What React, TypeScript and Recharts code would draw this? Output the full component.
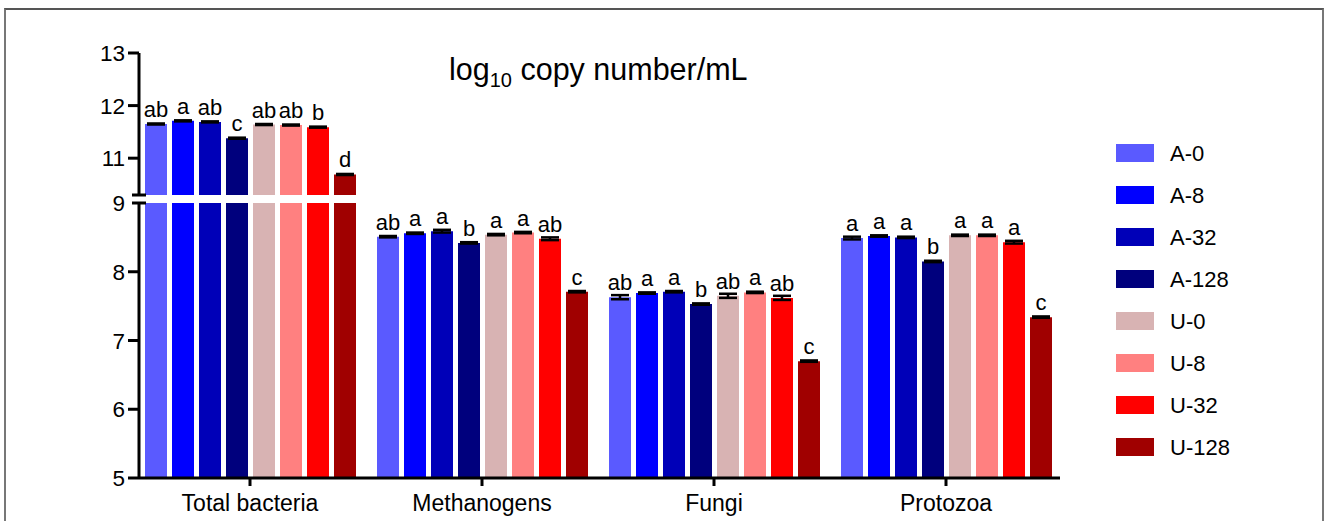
import React from 'react';
import { BarChart, Bar, XAxis, YAxis, ErrorBar, LabelList } from 'recharts';

// categories on the x axis
const CATEGORIES = ['Total bacteria', 'Methanogens', 'Fungi', 'Protozoa'];

const SERIES_NAMES = ['A-0', 'A-8', 'A-32', 'A-128', 'U-0', 'U-8', 'U-32', 'U-128'];
const SERIES_COLORS = ['#5a5aff', '#0000ff', '#0000b8', '#00007d', '#d8b3b3', '#ff8080', '#ff0000', '#a00000'];

// mean log10 copy number/mL (Total bacteria, Methanogens, Fungi, Protozoa)
const A0 = [11.65, 8.51, 7.63, 8.49];
const A8 = [11.71, 8.56, 7.69, 8.52];
const A32 = [11.69, 8.59, 7.71, 8.5];
const A128 = [11.38, 8.42, 7.53, 8.15];
const U0 = [11.64, 8.54, 7.65, 8.53];
const U8 = [11.63, 8.57, 7.7, 8.53];
const U32 = [11.59, 8.48, 7.62, 8.43];
const U128 = [10.69, 7.71, 6.7, 7.34];

// SEM
const A0_SEM = [0.01, 0.01, 0.03, 0.02];
const A8_SEM = [0.01, 0.01, 0.01, 0.01];
const A32_SEM = [0.01, 0.02, 0.01, 0.01];
const A128_SEM = [0.01, 0.01, 0.01, 0.01];
const U0_SEM = [0.01, 0.01, 0.03, 0.01];
const U8_SEM = [0.01, 0.01, 0.01, 0.01];
const U32_SEM = [0.01, 0.02, 0.03, 0.02];
const U128_SEM = [0.01, 0.01, 0.01, 0.01];

// significance letters
const A0_LETTERS = ['ab', 'ab', 'ab', 'a'];
const A8_LETTERS = ['a', 'a', 'a', 'a'];
const A32_LETTERS = ['ab', 'a', 'a', 'a'];
const A128_LETTERS = ['c', 'b', 'b', 'b'];
const U0_LETTERS = ['ab', 'a', 'ab', 'a'];
const U8_LETTERS = ['ab', 'a', 'a', 'a'];
const U32_LETTERS = ['b', 'ab', 'ab', 'a'];
const U128_LETTERS = ['d', 'c', 'c', 'c'];

// broken y axis
const UPPER_DOMAIN: [number, number] = [10.3, 13];
const LOWER_DOMAIN: [number, number] = [5, 9];
const UPPER_TICKS = [10.3, 11, 12, 13];
const LOWER_TICKS = [5, 6, 7, 8, 9];

const VALUES = [A0, A8, A32, A128, U0, U8, U32, U128];
const SEMS = [A0_SEM, A8_SEM, A32_SEM, A128_SEM, U0_SEM, U8_SEM, U32_SEM, U128_SEM];
const LETTERS = [A0_LETTERS, A8_LETTERS, A32_LETTERS, A128_LETTERS, U0_LETTERS, U8_LETTERS, U32_LETTERS, U128_LETTERS];

const data = CATEGORIES.map((name, i) => {
  const row: Record<string, string | number> = { name };
  SERIES_NAMES.forEach((_, j) => {
    row[`v${j}`] = VALUES[j][i];
    row[`e${j}`] = SEMS[j][i];
    row[`l${j}`] = LETTERS[j][i];
  });
  return row;
});

const FONT = '"Liberation Sans", Arial, sans-serif';
const WIDTH = 1328;
const PLOT_LEFT = 139;
const RIGHT_MARGIN = 268;
const X_PADDING = { left: -5, right: -2 };

function renderYTick(props: any, breakValue: number, labelBreak: boolean) {
  const { y, payload } = props;
  const v = payload.value;
  const isBreak = v === breakValue;
  return (
    <g>
      <line
        x1={isBreak ? PLOT_LEFT - 7 : PLOT_LEFT - 11}
        x2={isBreak ? PLOT_LEFT + 7 : PLOT_LEFT}
        y1={y}
        y2={y}
        stroke="#000"
        strokeWidth={3}
      />
      {(!isBreak || labelBreak) && (
        <text x={PLOT_LEFT - 14} y={y} dy="0.36em" textAnchor="end" fontSize={22.5} fill="#000" fontFamily={FONT}>
          {v}
        </text>
      )}
    </g>
  );
}

function Segment({
  height,
  margin,
  domain,
  ticks,
  breakValue,
  labelBreak,
  showX,
}: {
  height: number;
  margin: { top: number; right: number; bottom: number; left: number };
  domain: [number, number];
  ticks: number[];
  breakValue: number;
  labelBreak: boolean;
  showX: boolean;
}) {
  const inDomain = (v: number) => v > domain[0] && v <= domain[1] + 1e-9;
  return (
    <BarChart width={WIDTH} height={height} data={data} margin={margin} barGap={5}>
      <XAxis
        dataKey="name"
        hide={!showX}
        height={showX ? 40 : 0}
        padding={X_PADDING}
        axisLine={{ stroke: '#000', strokeWidth: 3 }}
        tickLine={{ stroke: '#000', strokeWidth: 3 }}
        tickSize={8}
        tickMargin={9}
        tick={{ fontSize: 23, fill: '#000', fontFamily: FONT }}
        interval={0}
      />
      <YAxis
        type="number"
        width={PLOT_LEFT}
        domain={domain}
        allowDataOverflow
        ticks={ticks}
        interval={0}
        axisLine={{ stroke: '#000', strokeWidth: 3 }}
        tickLine={false}
        tick={(p: any) => renderYTick(p, breakValue, labelBreak)}
      />
      {SERIES_NAMES.map((s, j) => (
        <Bar key={s} dataKey={`v${j}`} name={s} fill={SERIES_COLORS[j]} barSize={22} isAnimationActive={false}>
          <ErrorBar dataKey={`e${j}`} width={9} strokeWidth={2.5} stroke="#000" direction="y" />
          <LabelList
            position="top"
            offset={7}
            fill="#000"
            fontSize={22}
            fontFamily={FONT}
            valueAccessor={(entry: any, idx: number) => {
              const row = entry?.payload ?? data[idx];
              const v = Number(row[`v${j}`]);
              return inDomain(v) ? row[`l${j}`] : null;
            }}
          />
        </Bar>
      ))}
    </BarChart>
  );
}

export default function App() {
  return (
    <div
      style={{
        position: 'absolute',
        left: 0,
        top: 0,
        width: WIDTH,
        height: 521,
        background: '#fff',
        overflow: 'hidden',
        fontFamily: FONT,
      }}
    >
      <div
        style={{
          position: 'absolute',
          left: 4,
          top: 8,
          width: 1320,
          height: 530,
          borderTop: '2px solid #555',
          borderLeft: '2px solid #777',
          borderRight: '2px solid #777',
          boxSizing: 'border-box',
        }}
      />
      <div style={{ position: 'absolute', left: 0, top: 0 }}>
        <Segment
          height={199}
          margin={{ top: 53, right: RIGHT_MARGIN, bottom: 4, left: 0 }}
          domain={UPPER_DOMAIN}
          ticks={UPPER_TICKS}
          breakValue={UPPER_DOMAIN[0]}
          labelBreak={false}
          showX={false}
        />
      </div>
      <div style={{ position: 'absolute', left: 0, top: 185 }}>
        <Segment
          height={336}
          margin={{ top: 18, right: RIGHT_MARGIN, bottom: 3, left: 0 }}
          domain={LOWER_DOMAIN}
          ticks={LOWER_TICKS}
          breakValue={LOWER_DOMAIN[1]}
          labelBreak
          showX
        />
      </div>
      <svg
        width={WIDTH}
        height={521}
        style={{ position: 'absolute', left: 0, top: 0, pointerEvents: 'none' }}
        fontFamily={FONT}
      >
        <text x={449} y={80} fontSize={30.5} fill="#000">
          log
          <tspan fontSize={20} dy={7}>
            10
          </tspan>
          <tspan dy={-7}> copy number/mL</tspan>
        </text>
        {SERIES_NAMES.map((s, j) => (
          <g key={s}>
            <rect x={1116} y={144 + 42 * j} width={38} height={18} fill={SERIES_COLORS[j]} />
            <text x={1170} y={153 + 42 * j} dy="0.36em" fontSize={22} fill="#000">
              {s}
            </text>
          </g>
        ))}
      </svg>
    </div>
  );
}
